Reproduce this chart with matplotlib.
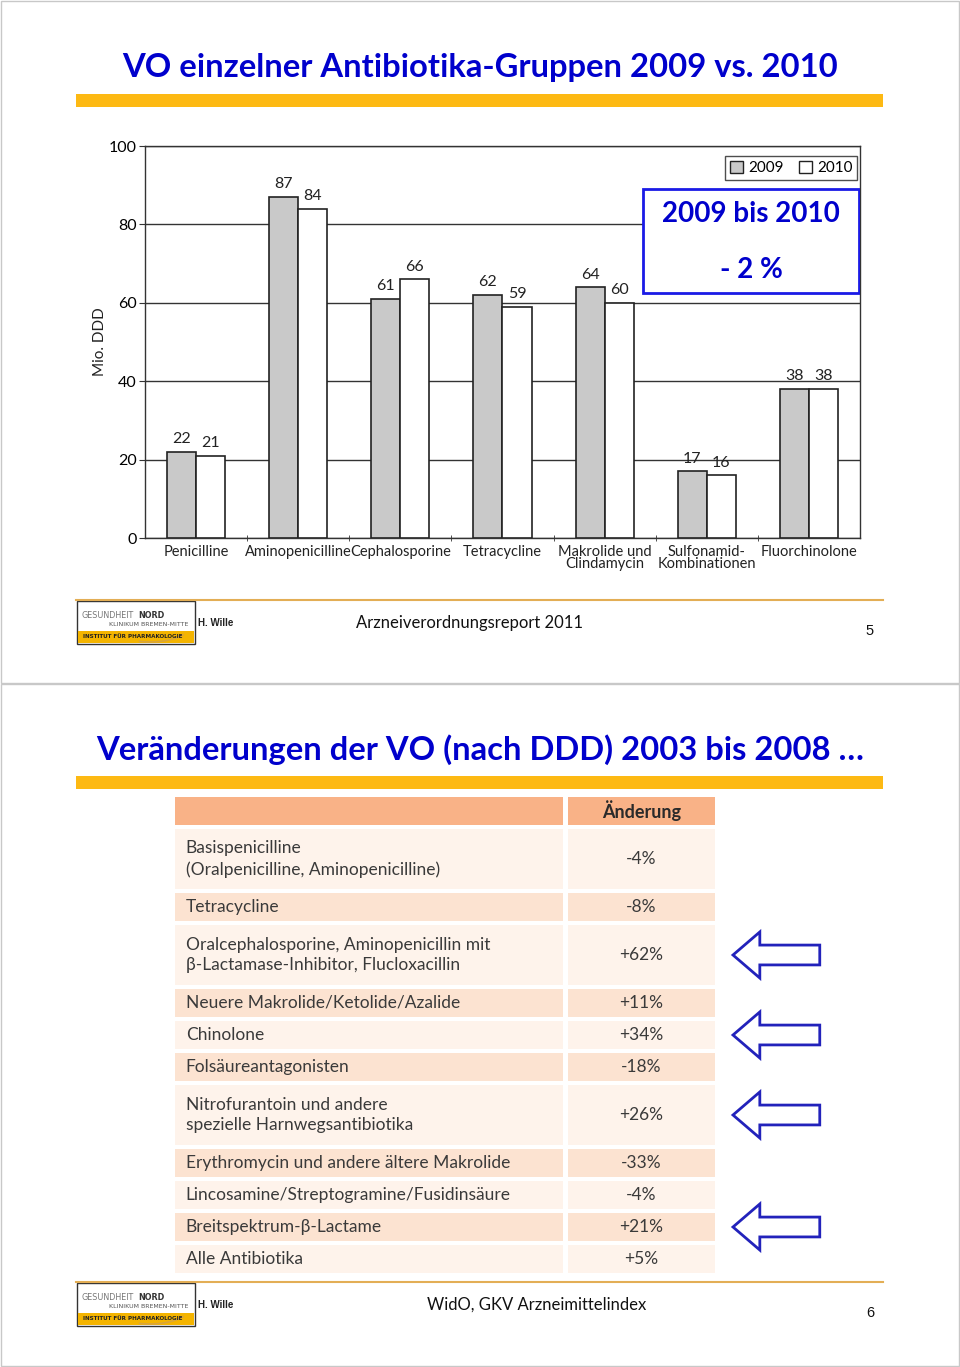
import matplotlib
matplotlib.use('Agg')
import matplotlib.pyplot as plt
from matplotlib.patches import Rectangle, Polygon, Patch, Arc
from matplotlib.transforms import blended_transform_factory
import numpy as np

# Folie 5: VO einzelner Antibiotika-Gruppen (Mio. DDD)
gruppen = ['Penicilline', 'Aminopenicilline', 'Cephalosporine', 'Tetracycline',
           'Makrolide und\nClindamycin', 'Sulfonamid-\nKombinationen', 'Fluorchinolone']
ddd_2009 = [22, 87, 61, 62, 64, 17, 38]
ddd_2010 = [21, 84, 66, 59, 60, 16, 38]
y_ticks = [0, 20, 40, 60, 80, 100]

# Folie 6: Veränderungen 2003 bis 2008
klassen = ['Basispenicilline\n(Oralpenicilline, Aminopenicilline)',
           'Tetracycline',
           'Oralcephalosporine, Aminopenicillin mit\nβ-Lactamase-Inhibitor, Flucloxacillin',
           'Neuere Makrolide/Ketolide/Azalide',
           'Chinolone',
           'Folsäureantagonisten',
           'Nitrofurantoin und andere\nspezielle Harnwegsantibiotika',
           'Erythromycin und andere ältere Makrolide',
           'Lincosamine/Streptogramine/Fusidinsäure',
           'Breitspektrum-β-Lactame',
           'Alle Antibiotika']
aenderung = ['-4%', '-8%', '+62%', '+11%', '+34%', '-18%', '+26%', '-33%', '-4%', '+21%', '+5%']
markiert = [2, 4, 6, 9]

W, H = 960, 1367
BLUE = '#0000CC'
ORANGE = '#FDB913'
NARROW = 'Lato'


def rect(x0, y0, x1, y1):
    return [x0 / W, 1 - y1 / H, (x1 - x0) / W, (y1 - y0) / H]


fig = plt.figure(figsize=(9.6, 13.67), dpi=100)
bg = fig.add_axes([0, 0, 1, 1])
bg.set_xlim(0, W)
bg.set_ylim(H, 0)
bg.axis('off')

# Seitenränder
bg.add_patch(Rectangle((0.5, 0.5), W - 1.5, 682.5, fill=False, edgecolor='#c8c8c8', lw=1))
bg.add_patch(Rectangle((0.5, 684), W - 1.5, 682, fill=False, edgecolor='#c8c8c8', lw=1))


def kopf(y, titel):
    bg.text(480, y, titel, ha='center', va='center', fontsize=23.6, fontweight='bold',
            color=BLUE, family='Lato')
    bg.add_patch(Rectangle((76, y + 26), 807, 13, color=ORANGE, lw=0))


def fuss(y, quelle, qx, seite):
    bg.plot([76, 883], [y, y], color='#E3AE55', lw=1.5)
    # Logo
    bg.add_patch(Rectangle((77, y + 1), 118, 43, facecolor='white', edgecolor='#333', lw=1))
    bg.add_patch(Rectangle((78, y + 31), 116, 12, facecolor='#F4B400', edgecolor='none'))
    bg.add_patch(Arc((150, y + 22), 86, 40, theta1=20, theta2=120, color='#D9A53A', lw=1.2))
    bg.text(82, y + 15, 'GESUNDHEIT', fontsize=5.8, color='#777', va='center', family='DejaVu Sans')
    bg.text(138, y + 15, 'NORD', fontsize=5.8, color='#333', va='center', fontweight='bold',
            family='DejaVu Sans')
    bg.text(188, y + 25, 'KLINIKUM BREMEN-MITTE', fontsize=4.5, color='#555', va='center',
            ha='right', family='DejaVu Sans')
    bg.text(83, y + 37, 'INSTITUT FÜR PHARMAKOLOGIE', fontsize=4.1, color='#222', va='center',
            fontweight='bold', family='DejaVu Sans')
    bg.text(198, y + 23, 'H. Wille', fontsize=7, fontweight='bold', color='#222', va='center',
            family='Liberation Sans')
    bg.text(qx, y + 23, quelle, fontsize=12, color='#111', va='center', ha='center', family='Lato')
    bg.text(870, y + 31, seite, fontsize=10.5, color='#111', va='center', ha='center',
            family='Liberation Sans')


kopf(68, 'VO einzelner Antibiotika-Gruppen 2009 vs. 2010')
fuss(600, 'Arzneiverordnungsreport 2011', 470, '5')
kopf(750, 'Veränderungen der VO (nach DDD) 2003 bis 2008 …')
fuss(1282, 'WidO, GKV Arzneimittelindex', 537, '6')

# ---- Balkendiagramm ----
ax = fig.add_axes(rect(145, 146, 860, 538))
x = np.arange(len(gruppen))
w = 0.284
ax.bar(x - w / 2, ddd_2009, w, color='#c9c9c9', edgecolor='#222', lw=1.2, zorder=3)
ax.bar(x + w / 2, ddd_2010, w, color='white', edgecolor='#222', lw=1.2, zorder=3)
for xs, vals in [(x - w / 2, ddd_2009), (x + w / 2, ddd_2010)]:
    for xi, v in zip(xs, vals):
        ax.annotate(str(v), (xi, v), xytext=(0, 4), textcoords='offset points',
                    ha='center', va='bottom', fontsize=11.5, family=NARROW, color='#222')

ax.set_xlim(-0.5, len(gruppen) - 0.5)
ax.set_ylim(0, 100)
ax.set_yticks(y_ticks)
ax.yaxis.grid(True, color='#333', lw=1)
ax.set_axisbelow(True)
ax.set_xticks(x)
ax.set_xticklabels(gruppen, fontsize=10.5, family=NARROW, linespacing=0.85, color='#222')
ax.set_xticks(np.arange(0.5, len(gruppen) - 1, 1), minor=True)
ax.tick_params(axis='x', which='major', length=0, pad=5)
ax.tick_params(axis='x', which='minor', length=4, direction='inout', color='#333')
ax.tick_params(axis='y', length=4, color='#333', labelsize=11.5, pad=2)
for lab in ax.get_yticklabels():
    lab.set_family(NARROW)
for s in ax.spines.values():
    s.set_color('#333')
    s.set_linewidth(1)
ax.set_ylabel('Mio. DDD', fontsize=11, family=NARROW, color='#222')
ax.yaxis.set_label_coords(-0.053, 0.5)

leg = ax.legend([Patch(facecolor='#c9c9c9', edgecolor='#222'), Patch(facecolor='white', edgecolor='#222')],
                ['2009', '2010'], ncol=2, loc='upper right', bbox_to_anchor=(0.996, 0.9745),
                borderaxespad=0, fancybox=False, edgecolor='#222', handlelength=0.9,
                handleheight=0.9, columnspacing=1.0, handletextpad=0.3, borderpad=0.3,
                prop={'family': NARROW, 'size': 11})
leg.get_frame().set_linewidth(1)

ax.add_patch(Rectangle((0.6965, 0.625), 0.302, 0.265, transform=ax.transAxes,
                       facecolor='white', edgecolor='#1a1ae6', lw=2, zorder=5))
ax.text(0.8476, 0.8265, '2009 bis 2010', transform=ax.transAxes, ha='center', va='center',
        fontsize=20, fontweight='bold', color=BLUE, family='Lato', zorder=6)
ax.text(0.8476, 0.684, '- 2 %', transform=ax.transAxes, ha='center', va='center',
        fontsize=20, fontweight='bold', color=BLUE, family='Lato', zorder=6)

# ---- Tabelle ----
tab = fig.add_axes(rect(175, 797, 715, 1277))
zeilen = [t.count('\n') + 1 for t in klassen]
gesamt = 1 + sum(zeilen)
tab.set_xlim(0, 1)
tab.set_ylim(gesamt, 0)
tab.axis('off')
gap = 0.125
links_breite = 0.7185
rechts_start = 0.728

tab.barh(0.5 - gap / 2, links_breite, height=1 - gap, left=0, color='#F9B287', lw=0)
tab.barh(0.5 - gap / 2, 1 - rechts_start, height=1 - gap, left=rechts_start, color='#F9B287', lw=0)
tab.text((rechts_start + 1) / 2, 0.5 - gap / 2, 'Änderung', ha='center', va='center',
         fontsize=13, fontweight='bold', color='#2a2a2a', family='Lato')

start = 1
mitten = []
for i, (txt, val, n) in enumerate(zip(klassen, aenderung, zeilen)):
    farbe = '#FEF3EB' if i % 2 == 0 else '#FCE3D1'
    mitte = start + (n - gap) / 2
    mitten.append(mitte)
    tab.barh(mitte, links_breite, height=n - gap, left=0, color=farbe, lw=0)
    tab.barh(mitte, 1 - rechts_start, height=n - gap, left=rechts_start, color=farbe, lw=0)
    tab.text(0.02, mitte, txt, ha='left', va='center', fontsize=12.5, color='#3a3a3a',
             family='Lato', linespacing=1.35)
    tab.text((rechts_start + 1) / 2, mitte, val, ha='center', va='center', fontsize=12.5,
             color='#3a3a3a', family='Lato')
    start += n

trans = blended_transform_factory(tab.transAxes, tab.transData)
for i in markiert:
    m = mitten[i]
    pts = [(1.0333, m), (1.083, m - 0.72), (1.083, m - 0.31), (1.194, m - 0.31),
           (1.194, m + 0.31), (1.083, m + 0.31), (1.083, m + 0.72)]
    tab.add_patch(Polygon(pts, closed=True, transform=trans, facecolor='white',
                          edgecolor='#2222BB', lw=2, clip_on=False))

fig.savefig('out.png', dpi=100)
